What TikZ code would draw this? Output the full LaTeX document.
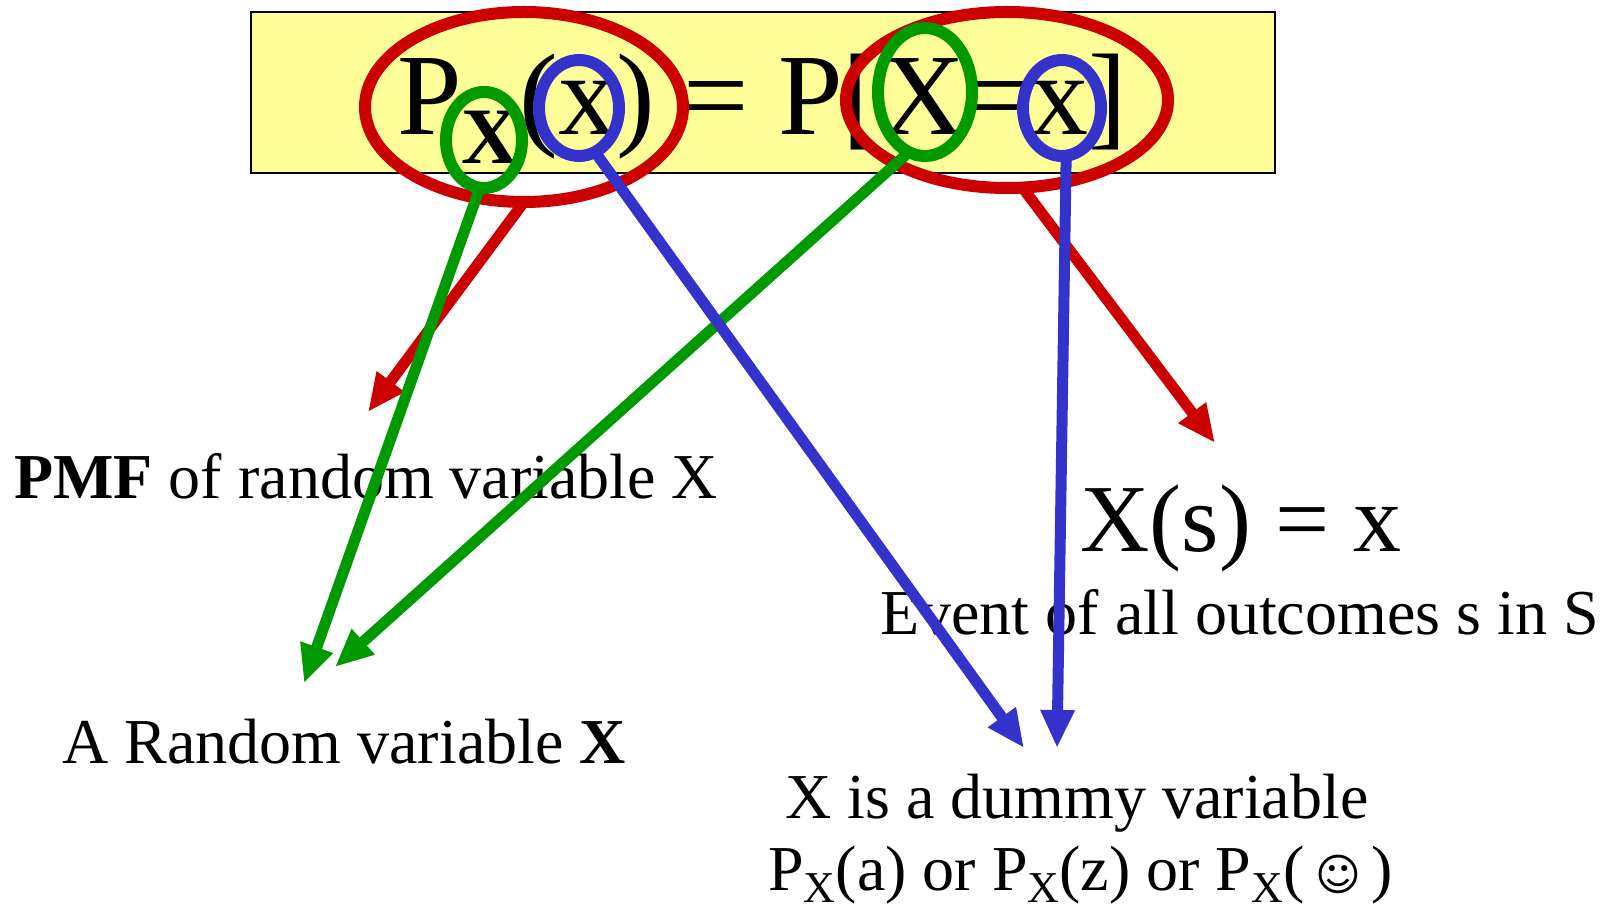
\documentclass[tikz,border=0pt]{standalone}
\usepackage{fontspec}
\setmainfont{Liberation Serif}
\newfontfamily\smileyfont{DejaVu Sans}
\usetikzlibrary{arrows.meta,shapes.geometric}
\definecolor{boxyellow}{HTML}{FFFF99}
\definecolor{ringred}{HTML}{CC0000}
\definecolor{ringgreen}{HTML}{009900}
\definecolor{ringblue}{HTML}{3333CC}

\begin{document}
\begin{tikzpicture}[x=0.5pt,y=-0.5pt,>={Triangle[length=19pt,width=16pt]},
    txt/.style={anchor=base west,inner sep=0pt,font=\fontsize{32}{38}\selectfont},
    ring/.style={draw,ellipse,line width=6pt,inner sep=0pt,outer sep=0pt},
    pointer/.style={->,line width=5.5pt}]

    \useasboundingbox (0,0) rectangle (1608,913);

    % Formula box
    \draw[fill=boxyellow,line width=1pt] (251,12) rectangle (1275,173);
    \node[anchor=base west,inner sep=0pt,font=\fontsize{58}{60}\selectfont] (pmfdef) at (397,135)
        {P\raisebox{-14.5pt}{\fontsize{40}{40}\selectfont\bfseries X}(x) = P[X=x]};

    % Labels
    \node[txt] (pmf) at (14,499) {\textbf{PMF} of random variable X};
    \node[txt,font=\fontsize{48}{50}\selectfont] (event) at (1080,552) {X(s) = x};
    \node[txt] (eventtxt) at (880,635) {Event of all outcomes s in S};
    \node[txt] (rv) at (62,764) {A Random variable \textbf{X}};
    \node[txt] (dummy) at (785,819) {X is a dummy variable};
    \node[txt] (examples) at (768,891)
        {P\raisebox{-6pt}{\fontsize{22}{22}\selectfont X}(a) or
         P\raisebox{-6pt}{\fontsize{22}{22}\selectfont X}(z) or
         P\raisebox{-6pt}{\fontsize{22}{22}\selectfont X}(\,{\smileyfont\fontsize{22}{22}\selectfont ☺}\,)};

    % Rings
    \node[ring,ringred,minimum width=159pt,minimum height=95pt] (pmfring) at (524,107) {};
    \node[ring,ringred,minimum width=161pt,minimum height=88pt] (eventring) at (1007,100) {};
    \node[ring,ringgreen,minimum width=38pt,minimum height=48pt] (subring) at (484,140) {};
    \node[ring,ringblue,minimum width=40pt,minimum height=48pt] (argring) at (579,108) {};
    \node[ring,ringgreen,minimum width=47pt,minimum height=64pt] (rvring) at (925,92) {};
    \node[ring,ringblue,minimum width=39pt,minimum height=48pt] (valring) at (1062,108) {};

    % Arrow tips
    \coordinate (pmftip) at (368,412);
    \coordinate (eventtip) at (1215,443);
    \coordinate (rvtipa) at (304,683);
    \coordinate (rvtipb) at (335,667);
    \coordinate (dummytipa) at (1024,748);
    \coordinate (dummytipb) at (1057,748);

    % Pointers
    \draw[pointer,ringred] (pmfring.south) -- (pmftip);
    \draw[pointer,ringred] (eventring.-80) -- (eventtip);
    \draw[pointer,ringgreen] (subring.-95) -- (rvtipa);
    \draw[pointer,ringgreen] (rvring.-105) -- (rvtipb);
    \draw[pointer,ringblue] (argring.-70) -- (dummytipa);
    \draw[pointer,ringblue] (valring.-85) -- (dummytipb);

\end{tikzpicture}
\end{document}
